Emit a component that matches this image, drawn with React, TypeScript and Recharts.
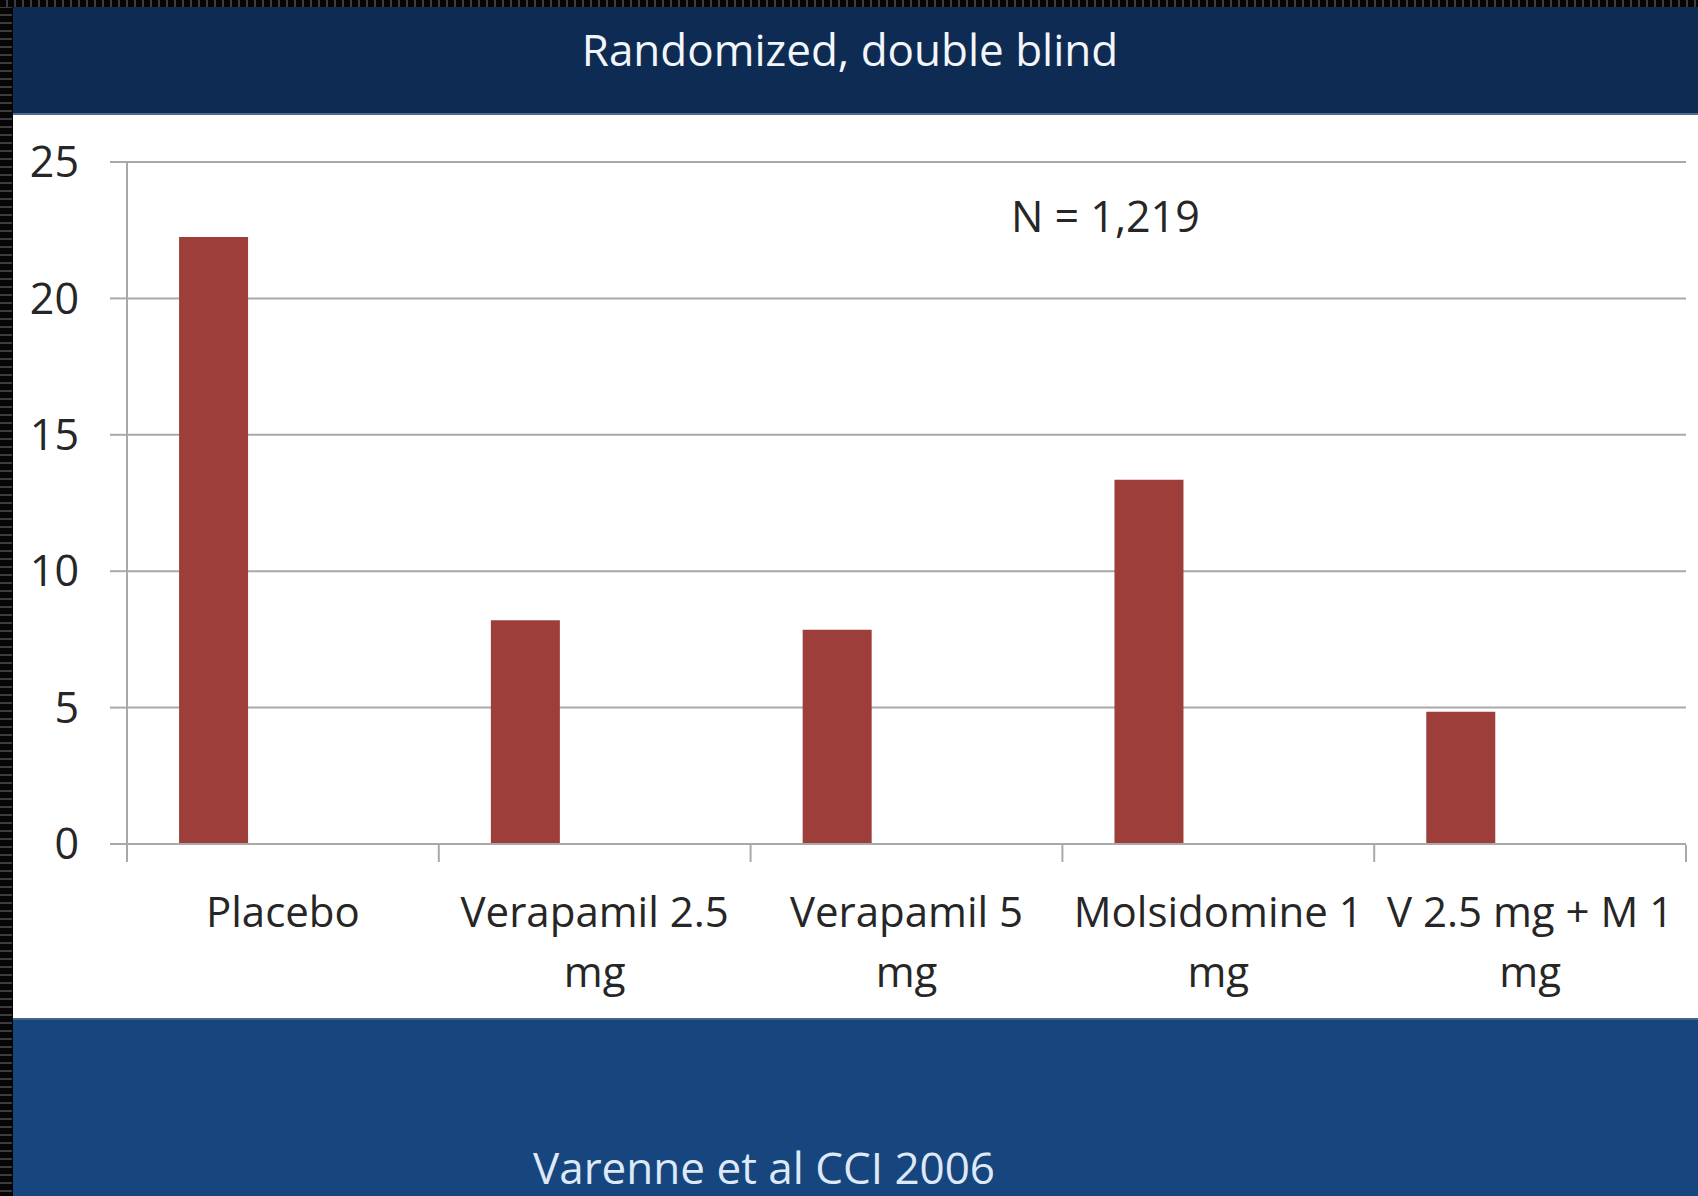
import React from 'react';
import { BarChart, Bar, XAxis, YAxis, CartesianGrid } from 'recharts';

// Treatment arms shown along the category axis
const categories = ['Placebo', 'Verapamil 2.5 mg', 'Verapamil 5 mg', 'Molsidomine 1 mg', 'V 2.5 mg + M 1 mg'];
// Wrapped lines for each category label
const tickLines = [
  ['Placebo'],
  ['Verapamil 2.5', 'mg'],
  ['Verapamil 5', 'mg'],
  ['Molsidomine 1', 'mg'],
  ['V 2.5 mg + M 1', 'mg'],
];
// Event rate per arm
const rates = [22.25, 8.2, 7.85, 13.35, 4.85];
// Two further series of the clustered layout carry no values
const series2: (number | null)[] = [null, null, null, null, null];
const series3: (number | null)[] = [null, null, null, null, null];

const yTicks = [0, 5, 10, 15, 20, 25];
// Category boundaries, used for the tick marks under the baseline
const categoryEdges = [0, 1, 2, 3, 4, 5];

const data = categories.map((name, i) => ({
  name,
  slot: i + 0.5,
  rate: rates[i],
  s2: series2[i],
  s3: series3[i],
}));

const FONT = '"Open Sans", "Noto Sans", sans-serif';
const GRID = '#a9a9a9';
const TEXT = '#262626';
const BAR = '#9e3e3a';

const W = 1698;
const H = 1196;
const BASE = 0.888; // baseline offset (em) for line-height 1

function CategoryTick(props: any) {
  const { x, y, payload } = props;
  const idx = categories.indexOf(payload.value);
  const lines = idx >= 0 ? tickLines[idx] : [String(payload.value)];
  return (
    <text x={x} y={y} textAnchor="middle" fill={TEXT} fontSize={42} fontFamily={FONT}>
      {lines.map((ln, i) => (
        <tspan key={i} x={x} y={y + 83 + i * 60}>
          {ln}
        </tspan>
      ))}
    </text>
  );
}

function NoLabel() {
  return <g />;
}

const frameStrip = (vertical: boolean): React.CSSProperties => ({
  position: 'absolute',
  background: vertical
    ? 'repeating-linear-gradient(to bottom, #050505 0 6px, #3c3c3c 6px 8px)'
    : 'repeating-linear-gradient(to right, #050505 0 6px, #3c3c3c 6px 8px)',
});

export default function App() {
  return (
    <div
      style={{
        position: 'absolute',
        left: 0,
        top: 0,
        width: W,
        height: H,
        background: '#000',
        overflow: 'hidden',
        fontFamily: FONT,
      }}
    >
      {/* dotted outer frame */}
      <div style={{ ...frameStrip(true), left: 0, top: 0, width: 12, height: H }} />
      <div style={{ ...frameStrip(false), left: 0, top: 0, width: W, height: 7 }} />

      {/* header band */}
      <div
        style={{
          position: 'absolute',
          left: 13,
          top: 7,
          width: W - 13,
          height: 108,
          background: '#0e2b53',
          borderBottom: '2px solid #4d6a90',
          boxSizing: 'border-box',
        }}
      />
      <div
        style={{
          position: 'absolute',
          left: 850 - 400,
          width: 800,
          top: 66 - BASE * 44,
          textAlign: 'center',
          fontSize: 44,
          lineHeight: 1,
          color: '#f2f6fb',
          whiteSpace: 'nowrap',
        }}
      >
        Randomized, double blind
      </div>

      {/* white chart panel */}
      <div
        style={{
          position: 'absolute',
          left: 13,
          top: 115,
          width: W - 13,
          height: 903,
          background: '#ffffff',
        }}
      />

      {/* footer band */}
      <div
        style={{
          position: 'absolute',
          left: 13,
          top: 1018,
          width: W - 13,
          height: H - 1018,
          background: '#17457e',
          borderTop: '2px solid #3f6591',
          boxSizing: 'border-box',
        }}
      />
      <div
        style={{
          position: 'absolute',
          left: 764 - 400,
          width: 800,
          top: 1184 - BASE * 44,
          textAlign: 'center',
          fontSize: 44,
          lineHeight: 1,
          color: '#dde9f6',
          whiteSpace: 'nowrap',
        }}
      >
        Varenne et al CCI 2006
      </div>

      {/* chart */}
      <div style={{ position: 'absolute', left: 0, top: 0 }}>
        <BarChart
          width={W}
          height={H}
          data={data}
          margin={{ top: 162, right: 12, bottom: 350, left: 0 }}
          barCategoryGap="16.7%"
          barGap={0}
        >
          <CartesianGrid vertical={false} stroke={GRID} strokeWidth={2} />
          <XAxis
            xAxisId="edges"
            dataKey="slot"
            type="number"
            domain={[0, 5]}
            allowDataOverflow
            ticks={categoryEdges}
            interval={0}
            height={1}
            axisLine={false}
            tick={<NoLabel />}
            tickSize={17}
            tickLine={{ stroke: GRID, strokeWidth: 2 }}
          />
          <XAxis
            dataKey="name"
            height={1}
            axisLine={{ stroke: GRID, strokeWidth: 2 }}
            tickLine={false}
            tickSize={0}
            tickMargin={0}
            interval={0}
            tick={<CategoryTick />}
          />
          <YAxis
            domain={[0, 25]}
            ticks={yTicks}
            width={127}
            axisLine={{ stroke: GRID, strokeWidth: 2 }}
            tickLine={{ stroke: GRID, strokeWidth: 2 }}
            tickSize={17}
            tickMargin={31}
            tick={{ fill: TEXT, fontSize: 43, fontFamily: FONT }}
          />
          <Bar dataKey="rate" fill={BAR} isAnimationActive={false} />
          <Bar dataKey="s2" fill={BAR} isAnimationActive={false} />
          <Bar dataKey="s3" fill={BAR} isAnimationActive={false} />
        </BarChart>
      </div>

      {/* sample size note */}
      <div
        style={{
          position: 'absolute',
          left: 1011,
          top: 232 - BASE * 43,
          fontSize: 43,
          lineHeight: 1,
          color: TEXT,
          whiteSpace: 'nowrap',
        }}
      >
        N = 1,219
      </div>
    </div>
  );
}
